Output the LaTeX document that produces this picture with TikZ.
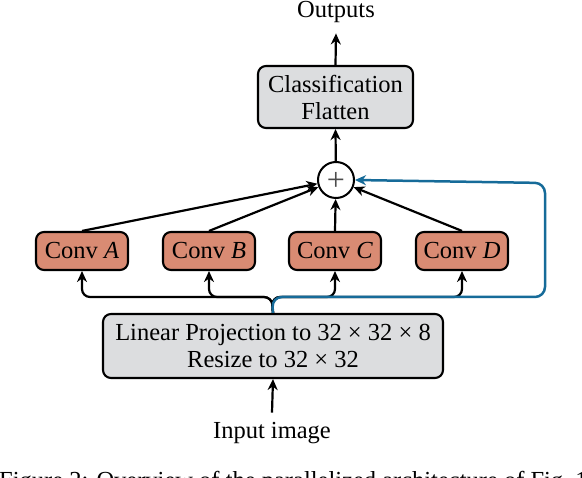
\documentclass[tikz,border=0pt]{standalone}
\usepackage{fontspec}
\setmainfont{Liberation Serif}
\usetikzlibrary{arrows.meta,shapes.geometric}
\definecolor{boxgray}{RGB}{220,221,223}
\definecolor{convred}{RGB}{217,139,115}
\definecolor{linkblue}{RGB}{22,107,153}
\tikzset{
  base/.style={font=\fontsize{24.5}{27}\selectfont},
  graybox/.style={base,draw=black,line width=2.1pt,fill=boxgray,rounded corners=8pt,align=center,inner sep=0pt},
  convbox/.style={base,draw=black,line width=2.1pt,fill=convred,rounded corners=8pt,minimum width=92pt,minimum height=38pt,inner sep=0pt},
  arr/.style={line width=2.2pt,-{Stealth[length=11pt,width=10pt,inset=3.5pt]}},
  bluearr/.style={line width=2.5pt,draw=linkblue,-{Stealth[length=11pt,width=10pt,inset=3.5pt]}},
  lbl/.style={base,inner sep=10pt},
}
\begin{document}
\begin{tikzpicture}[x=1pt,y=-1pt]
\useasboundingbox (0,0) rectangle (582,478);
\clip (0,0) rectangle (582,478);
% nodes
\node[lbl,anchor=base] (out) at (336,18) {Outputs};
\node[graybox,minimum width=155pt,minimum height=62pt] (cls) at (335.5,97) {Classification\\Flatten};
\node[draw=black,line width=2pt,fill=white,circle,minimum size=36pt,inner sep=0pt,
      font=\fontsize{32}{32}\selectfont,text=black!70] (plus) at (336,180) {};
\node[font=\fontsize{32}{32}\selectfont,text=black!70,inner sep=0pt] (plussign) at ([yshift=-1pt]plus.center) {+};
\node[convbox] (A) at (82,251) {Conv \textit{A}};
\node[convbox] (B) at (209,251) {Conv \textit{B}};
\node[convbox] (C) at (335,251) {Conv \textit{C}};
\node[convbox] (D) at (462,251) {Conv \textit{D}};
\node[graybox,minimum width=340pt,minimum height=64pt] (proj) at (273,346) {Linear Projection to 32 × 32 × 8\\Resize to 32 × 32};
\node[lbl,anchor=base] (inp) at (272,439) {Input image};
\node[base,anchor=base west,inner sep=0pt] (cap) at (-1,489) {Figure 2: Overview of the parallelized architecture of Fig.~1};
% coordinates for routing
\coordinate (split) at (272,297);
\coordinate (bc1) at (545,297);
\coordinate (bc2) at (545,183);
% connectors
\draw[arr] (inp.north) -- (proj.south);
\draw[arr,rounded corners=8pt] (proj.north) -- (split) -| (A.south);
\draw[arr,rounded corners=8pt] (proj.north) -- (split) -| (B.south);
\draw[arr,rounded corners=8pt] (proj.north) -- (split) -| (C.south);
\draw[arr,rounded corners=8pt] (proj.north) -- (split) -| (D.south);
\draw[bluearr,rounded corners=10pt] (proj.north) -- (split) -- (bc1) -- (bc2) -- (plus.east);
\draw[arr] (A.north) -- (plus);
\draw[arr] (B.north) -- (plus);
\draw[arr] (C.north) -- (plus);
\draw[arr] (D.north) -- (plus);
\draw[arr] (plus) -- (cls.south);
\draw[arr] (cls.north) -- (out.south);
\end{tikzpicture}
\end{document}
